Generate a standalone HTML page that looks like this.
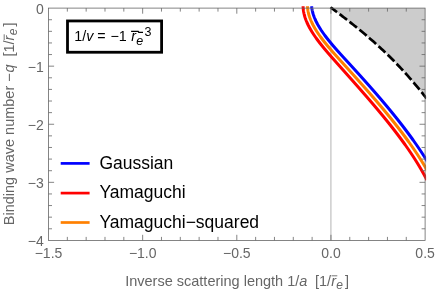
<!DOCTYPE html>
<html><head><meta charset="utf-8">
<style>
html,body{margin:0;padding:0;background:#fff;}
body{width:436px;height:289px;overflow:hidden;}
svg{display:block;will-change:transform;}
text{font-family:"Liberation Sans",sans-serif;}
.g text{fill:#666;font-size:14px;}
.lab text{fill:#666;font-size:14.5px;}
.leg text{fill:#000;font-size:17.5px;}
</style></head><body>
<svg width="436" height="289" viewBox="0 0 436 289">
<defs><clipPath id="c"><rect x="47.5" y="6.2" width="378.6" height="235.20000000000002"/></clipPath></defs>
<rect width="436" height="289" fill="#fff"/>
<clipPath id="f"><rect x="48.5" y="8.1" width="376.6" height="232.3"/></clipPath><path d="M330.50,7.24 L332.00,8.36 L333.50,9.49 L335.00,10.61 L336.50,11.75 L338.00,12.88 L339.50,14.02 L341.00,15.16 L342.50,16.31 L344.00,17.46 L345.50,18.62 L347.00,19.79 L348.50,20.96 L350.00,22.13 L351.50,23.32 L353.00,24.51 L354.50,25.71 L356.00,26.91 L357.50,28.13 L359.00,29.35 L360.50,30.58 L362.00,31.82 L363.50,33.07 L365.00,34.33 L366.50,35.60 L368.00,36.88 L369.50,38.17 L371.00,39.47 L372.50,40.79 L374.00,42.11 L375.50,43.45 L377.00,44.80 L378.50,46.16 L380.00,47.54 L381.50,48.93 L383.00,50.33 L384.50,51.75 L386.00,53.18 L387.50,54.62 L389.00,56.08 L390.50,57.56 L392.00,59.05 L393.50,60.56 L395.00,62.09 L396.50,63.63 L398.00,65.19 L399.50,66.76 L401.00,68.36 L402.50,69.97 L404.00,71.60 L405.50,73.25 L407.00,74.91 L408.50,76.60 L410.00,78.31 L411.50,80.03 L413.00,81.78 L414.50,83.55 L416.00,85.34 L417.50,87.15 L419.00,88.98 L420.50,90.84 L422.00,92.71 L423.50,94.61 L425.00,96.53 L426.50,98.48 L430.1,98.4801198362551 L430.1,3.0999999999999996 L330.5,3.0999999999999996 Z" fill="#cccccc" clip-path="url(#f)"/>
<line x1="330.9" y1="8.1" x2="330.9" y2="240.4" stroke="#c0c0c0" stroke-width="1.2"/>
<g clip-path="url(#c)" fill="none" stroke-width="3.0" stroke-linejoin="round">
<path d="M330.50,7.24 L332.00,8.36 L333.50,9.49 L335.00,10.61 L336.50,11.75 L338.00,12.88 L339.50,14.02 L341.00,15.16 L342.50,16.31 L344.00,17.46 L345.50,18.62 L347.00,19.79 L348.50,20.96 L350.00,22.13 L351.50,23.32 L353.00,24.51 L354.50,25.71 L356.00,26.91 L357.50,28.13 L359.00,29.35 L360.50,30.58 L362.00,31.82 L363.50,33.07 L365.00,34.33 L366.50,35.60 L368.00,36.88 L369.50,38.17 L371.00,39.47 L372.50,40.79 L374.00,42.11 L375.50,43.45 L377.00,44.80 L378.50,46.16 L380.00,47.54 L381.50,48.93 L383.00,50.33 L384.50,51.75 L386.00,53.18 L387.50,54.62 L389.00,56.08 L390.50,57.56 L392.00,59.05 L393.50,60.56 L395.00,62.09 L396.50,63.63 L398.00,65.19 L399.50,66.76 L401.00,68.36 L402.50,69.97 L404.00,71.60 L405.50,73.25 L407.00,74.91 L408.50,76.60 L410.00,78.31 L411.50,80.03 L413.00,81.78 L414.50,83.55 L416.00,85.34 L417.50,87.15 L419.00,88.98 L420.50,90.84 L422.00,92.71 L423.50,94.61 L425.00,96.53 L426.50,98.48" stroke="#000" stroke-width="2.7" stroke-dasharray="9.4 3.2" stroke-dashoffset="1.2"/>
<path d="M303.09,6.00 L303.13,7.50 L303.24,9.00 L303.42,10.50 L303.66,12.00 L303.96,13.50 L304.33,15.00 L304.75,16.50 L305.22,18.00 L305.75,19.50 L306.34,21.00 L306.97,22.50 L307.66,24.00 L308.39,25.50 L309.17,27.00 L309.99,28.50 L310.85,30.00 L311.75,31.50 L312.69,33.00 L313.67,34.50 L314.69,36.00 L315.73,37.50 L316.81,39.00 L317.92,40.50 L319.05,42.00 L320.21,43.50 L321.40,45.00 L322.61,46.50 L323.83,48.00 L325.08,49.50 L326.34,51.00 L327.62,52.50 L328.91,54.00 L330.22,55.50 L331.53,57.00 L332.85,58.50 L334.18,60.00 L335.51,61.50 L336.84,63.00 L338.18,64.50 L339.51,66.00 L340.85,67.50 L342.18,69.00 L343.52,70.50 L344.85,72.00 L346.19,73.50 L347.52,75.00 L348.86,76.50 L350.19,78.00 L351.52,79.50 L352.85,81.00 L354.18,82.50 L355.50,84.00 L356.83,85.50 L358.15,87.00 L359.47,88.50 L360.78,90.00 L362.10,91.50 L363.41,93.00 L364.71,94.50 L366.02,96.00 L367.32,97.50 L368.61,99.00 L369.90,100.50 L371.19,102.00 L372.47,103.50 L373.75,105.00 L375.02,106.50 L376.29,108.00 L377.55,109.50 L378.80,111.00 L380.05,112.50 L381.30,114.00 L382.54,115.50 L383.77,117.00 L384.99,118.50 L386.21,120.00 L387.42,121.50 L388.62,123.00 L389.82,124.50 L391.01,126.00 L392.19,127.50 L393.36,129.00 L394.52,130.50 L395.68,132.00 L396.82,133.50 L397.96,135.00 L399.09,136.50 L400.21,138.00 L401.32,139.50 L402.42,141.00 L403.51,142.50 L404.59,144.00 L405.66,145.50 L406.71,147.00 L407.76,148.50 L408.80,150.00 L409.82,151.50 L410.84,153.00 L411.84,154.50 L412.83,156.00 L413.81,157.50 L414.77,159.00 L415.73,160.50 L416.67,162.00 L417.60,163.50 L418.51,165.00 L419.41,166.50 L420.30,168.00 L421.18,169.50 L422.04,171.00 L422.88,172.50 L423.72,174.00 L424.53,175.50 L425.34,177.00 L426.12,178.50 L426.90,180.00" stroke="#ff0000"/>
<path d="M307.48,6.00 L307.57,7.50 L307.72,9.00 L307.93,10.50 L308.21,12.00 L308.55,13.50 L308.95,15.00 L309.42,16.50 L309.93,18.00 L310.51,19.50 L311.13,21.00 L311.81,22.50 L312.54,24.00 L313.31,25.50 L314.13,27.00 L314.99,28.50 L315.90,30.00 L316.84,31.50 L317.83,33.00 L318.85,34.50 L319.90,36.00 L320.99,37.50 L322.10,39.00 L323.25,40.50 L324.42,42.00 L325.62,43.50 L326.85,45.00 L328.09,46.50 L329.35,48.00 L330.63,49.50 L331.93,51.00 L333.24,52.50 L334.56,54.00 L335.90,55.50 L337.24,57.00 L338.59,58.50 L339.94,60.00 L341.30,61.50 L342.66,63.00 L344.01,64.50 L345.37,66.00 L346.72,67.50 L348.08,69.00 L349.43,70.50 L350.78,72.00 L352.13,73.50 L353.48,75.00 L354.82,76.50 L356.16,78.00 L357.50,79.50 L358.84,81.00 L360.17,82.50 L361.50,84.00 L362.83,85.50 L364.16,87.00 L365.48,88.50 L366.79,90.00 L368.11,91.50 L369.42,93.00 L370.72,94.50 L372.02,96.00 L373.32,97.50 L374.61,99.00 L375.90,100.50 L377.18,102.00 L378.45,103.50 L379.72,105.00 L380.99,106.50 L382.24,108.00 L383.50,109.50 L384.74,111.00 L385.98,112.50 L387.22,114.00 L388.44,115.50 L389.66,117.00 L390.88,118.50 L392.08,120.00 L393.28,121.50 L394.47,123.00 L395.65,124.50 L396.83,126.00 L398.00,127.50 L399.16,129.00 L400.31,130.50 L401.45,132.00 L402.58,133.50 L403.70,135.00 L404.82,136.50 L405.92,138.00 L407.02,139.50 L408.11,141.00 L409.18,142.50 L410.25,144.00 L411.30,145.50 L412.35,147.00 L413.39,148.50 L414.41,150.00 L415.42,151.50 L416.43,153.00 L417.42,154.50 L418.40,156.00 L419.37,157.50 L420.32,159.00 L421.27,160.50 L422.20,162.00 L423.12,163.50 L424.03,165.00 L424.93,166.50 L425.81,168.00 L426.68,169.50 L427.53,171.00" stroke="#ff8000"/>
<path d="M311.61,6.00 L311.75,7.50 L311.96,9.00 L312.23,10.50 L312.58,12.00 L312.99,13.50 L313.46,15.00 L313.99,16.50 L314.58,18.00 L315.22,19.50 L315.91,21.00 L316.66,22.50 L317.45,24.00 L318.29,25.50 L319.18,27.00 L320.10,28.50 L321.06,30.00 L322.07,31.50 L323.11,33.00 L324.18,34.50 L325.28,36.00 L326.42,37.50 L327.59,39.00 L328.78,40.50 L330.00,42.00 L331.24,43.50 L332.50,45.00 L333.78,46.50 L335.08,48.00 L336.39,49.50 L337.72,51.00 L339.07,52.50 L340.42,54.00 L341.78,55.50 L343.15,57.00 L344.52,58.50 L345.90,60.00 L347.28,61.50 L348.65,63.00 L350.03,64.50 L351.40,66.00 L352.77,67.50 L354.14,69.00 L355.50,70.50 L356.86,72.00 L358.22,73.50 L359.57,75.00 L360.92,76.50 L362.27,78.00 L363.62,79.50 L364.96,81.00 L366.29,82.50 L367.62,84.00 L368.95,85.50 L370.27,87.00 L371.59,88.50 L372.91,90.00 L374.21,91.50 L375.52,93.00 L376.82,94.50 L378.11,96.00 L379.40,97.50 L380.68,99.00 L381.96,100.50 L383.23,102.00 L384.49,103.50 L385.75,105.00 L387.00,106.50 L388.25,108.00 L389.49,109.50 L390.72,111.00 L391.95,112.50 L393.17,114.00 L394.38,115.50 L395.59,117.00 L396.79,118.50 L397.98,120.00 L399.16,121.50 L400.33,123.00 L401.50,124.50 L402.66,126.00 L403.81,127.50 L404.95,129.00 L406.09,130.50 L407.21,132.00 L408.33,133.50 L409.44,135.00 L410.54,136.50 L411.63,138.00 L412.71,139.50 L413.78,141.00 L414.84,142.50 L415.89,144.00 L416.94,145.50 L417.97,147.00 L418.99,148.50 L420.00,150.00 L421.01,151.50 L422.00,153.00 L422.98,154.50 L423.95,156.00 L424.91,157.50 L425.85,159.00 L426.79,160.50 L427.72,162.00" stroke="#0000ff"/>
</g>
<rect x="48.5" y="8.1" width="376.6" height="232.3" fill="none" stroke="#666" stroke-width="0.8"/>
<path d="M67.33,240.4 v-3.5 M67.33,8.1 v3.5 M86.16,240.4 v-3.5 M86.16,8.1 v3.5 M104.99,240.4 v-3.5 M104.99,8.1 v3.5 M123.82,240.4 v-3.5 M123.82,8.1 v3.5 M142.65,240.4 v-5.6 M142.65,8.1 v5.6 M161.48,240.4 v-3.5 M161.48,8.1 v3.5 M180.31,240.4 v-3.5 M180.31,8.1 v3.5 M199.14,240.4 v-3.5 M199.14,8.1 v3.5 M217.97,240.4 v-3.5 M217.97,8.1 v3.5 M236.80,240.4 v-5.6 M236.80,8.1 v5.6 M255.63,240.4 v-3.5 M255.63,8.1 v3.5 M274.46,240.4 v-3.5 M274.46,8.1 v3.5 M293.29,240.4 v-3.5 M293.29,8.1 v3.5 M312.12,240.4 v-3.5 M312.12,8.1 v3.5 M330.95,240.4 v-5.6 M330.95,8.1 v5.6 M349.78,240.4 v-3.5 M349.78,8.1 v3.5 M368.61,240.4 v-3.5 M368.61,8.1 v3.5 M387.44,240.4 v-3.5 M387.44,8.1 v3.5 M406.27,240.4 v-3.5 M406.27,8.1 v3.5 M48.5,19.72 h3.5 M425.1,19.72 h-3.5 M48.5,31.33 h3.5 M425.1,31.33 h-3.5 M48.5,42.95 h3.5 M425.1,42.95 h-3.5 M48.5,54.56 h3.5 M425.1,54.56 h-3.5 M48.5,66.17 h5.6 M425.1,66.17 h-5.6 M48.5,77.79 h3.5 M425.1,77.79 h-3.5 M48.5,89.41 h3.5 M425.1,89.41 h-3.5 M48.5,101.02 h3.5 M425.1,101.02 h-3.5 M48.5,112.64 h3.5 M425.1,112.64 h-3.5 M48.5,124.25 h5.6 M425.1,124.25 h-5.6 M48.5,135.87 h3.5 M425.1,135.87 h-3.5 M48.5,147.48 h3.5 M425.1,147.48 h-3.5 M48.5,159.09 h3.5 M425.1,159.09 h-3.5 M48.5,170.71 h3.5 M425.1,170.71 h-3.5 M48.5,182.33 h5.6 M425.1,182.33 h-5.6 M48.5,193.94 h3.5 M425.1,193.94 h-3.5 M48.5,205.56 h3.5 M425.1,205.56 h-3.5 M48.5,217.17 h3.5 M425.1,217.17 h-3.5 M48.5,228.79 h3.5 M425.1,228.79 h-3.5" stroke="#666" stroke-width="0.8" fill="none"/>
<g class="g">
<text x="48.5" y="258" text-anchor="middle">−1.5</text>
<text x="142.7" y="258" text-anchor="middle">−1.0</text>
<text x="236.8" y="258" text-anchor="middle">−0.5</text>
<text x="331.0" y="258" text-anchor="middle">0.0</text>
<text x="425.1" y="258" text-anchor="middle">0.5</text>
<text x="43.7" y="13.6" text-anchor="end">0</text>
<text x="43.7" y="71.7" text-anchor="end">−1</text>
<text x="43.7" y="129.8" text-anchor="end">−2</text>
<text x="43.7" y="187.8" text-anchor="end">−3</text>
<text x="43.7" y="245.9" text-anchor="end">−4</text>
</g>
<g class="lab">
<text x="125.2" y="285.6" xml:space="preserve">Inverse scattering length 1/<tspan font-style="italic">a</tspan><tspan x="315.0">[1/</tspan><tspan font-style="italic">r</tspan><tspan font-style="italic" font-size="12" dy="3.1" dx="0.4">e</tspan><tspan dy="-3.1" x="345.0">]</tspan></text>
<line x1="331.5" y1="275.8" x2="337.3" y2="275.8" stroke="#666" stroke-width="0.9"/>
<g transform="translate(14.0,225.2) rotate(-90)">
<text x="0" y="0" xml:space="preserve">Binding wave number −<tspan font-style="italic" dx="0.8">q</tspan><tspan x="168.6">[1/</tspan><tspan font-style="italic">r</tspan><tspan font-style="italic" font-size="12" dy="3.1" dx="0.4">e</tspan><tspan dy="-3.1" x="198.6">]</tspan></text>
<line x1="185.1" y1="-9.8" x2="190.9" y2="-9.8" stroke="#666" stroke-width="0.9"/>
</g>
</g>
<g class="leg">
<line x1="60.7" x2="89.6" y1="163.4" y2="163.4" stroke="#0000ff" stroke-width="2.7"/>
<line x1="60.7" x2="89.6" y1="193.1" y2="193.1" stroke="#ff0000" stroke-width="2.7"/>
<line x1="60.7" x2="89.6" y1="222.5" y2="222.5" stroke="#ff8000" stroke-width="2.7"/>
<text x="99.4" y="168.9">Gaussian</text>
<text x="99.4" y="198.4">Yamaguchi</text>
<text x="99.4" y="228.0">Yamaguchi−squared</text>
</g>
<rect x="67.5" y="20.95" width="94.1" height="31.3" fill="#fff" stroke="#000" stroke-width="2.8"/>
<text y="40.7" font-size="14.3" fill="#000" xml:space="preserve"><tspan x="74.3">1/</tspan><tspan font-style="italic">v</tspan> =<tspan x="110.4">−1</tspan><tspan x="131.2" font-style="italic">r</tspan><tspan x="136.2" y="45.2" font-style="italic" font-size="12.5">e</tspan><tspan x="144.4" y="35.9" font-size="12.5">3</tspan></text>
<path d="M131.1,31.3 L138.2,31.3 L138.8,32.3 L143,32.3" fill="none" stroke="#000" stroke-width="1.3"/>
</svg>
</body></html>
